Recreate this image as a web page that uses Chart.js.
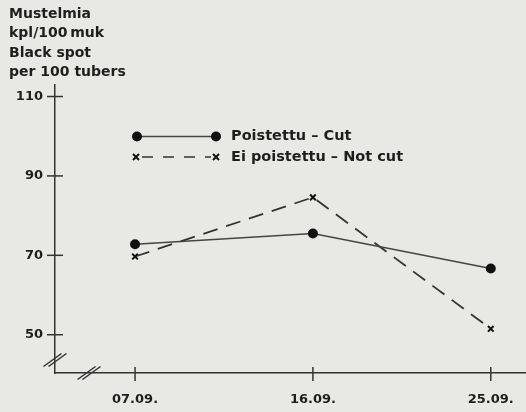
<!DOCTYPE html>
<html>
<head>
<meta charset="utf-8">
<script src="https://cdn.jsdelivr.net/npm/chart.js@4.4.1/dist/chart.umd.min.js"></script>
<style>
  html, body { margin: 0; padding: 0; background: #e8e8e5; }
  #wrap { width: 526px; height: 412px; }
</style>
</head>
<body>
<div id="wrap"><canvas id="chart" width="526" height="412"></canvas></div>
<script>
// Sampling dates (placed at x = 0, 1, 2)
const dates = ['07.09.', '16.09.', '25.09.'];
// Black spot per 100 tubers
const cutValues = [72.8, 75.5, 66.7];
const notCutValues = [69.7, 84.6, 51.5];
const yTicks = [50, 70, 90, 110];
const titleLines = ['Mustelmia', 'kpl/100\u2009muk', 'Black spot', 'per 100 tubers'];
const legendLabels = ['Poistettu – Cut', 'Ei poistettu – Not cut'];

const INK = '#1e1e1e';
const FONT = 'DejaVu Sans';

// Extra drawing: background, tick crosses, axis breaks, title block, legend
const decor = {
  id: 'decor',
  beforeDraw(chart) {
    const ctx = chart.ctx;
    ctx.save();
    ctx.fillStyle = '#e8e8e5';
    ctx.fillRect(0, 0, chart.width, chart.height);
    ctx.restore();
  },
  afterDraw(chart) {
    const ctx = chart.ctx;
    const area = chart.chartArea;
    const xs = chart.scales.x;
    const ys = chart.scales.y;
    ctx.save();
    ctx.strokeStyle = '#333';
    ctx.lineWidth = 1.5;

    // tick marks crossing the axes
    yTicks.forEach(v => {
      const py = ys.getPixelForValue(v);
      ctx.beginPath();
      ctx.moveTo(area.left - 8, py);
      ctx.lineTo(area.left + 8, py);
      ctx.stroke();
    });
    dates.forEach((d, i) => {
      const px = xs.getPixelForValue(i);
      ctx.beginPath();
      ctx.moveTo(px, area.bottom - 6);
      ctx.lineTo(px, area.bottom + 8);
      ctx.stroke();
    });

    // axis break marks
    const brk = (cx, cy) => {
      [-2.5, 2.5].forEach(o => {
        ctx.beginPath();
        ctx.moveTo(cx + o - 9, cy + 6.5);
        ctx.lineTo(cx + o + 9, cy - 6.5);
        ctx.stroke();
      });
    };
    brk(area.left, area.bottom - 13);
    brk(area.left + 34, area.bottom);

    // y axis title, top left
    ctx.fillStyle = INK;
    ctx.font = 'bold 14px "' + FONT + '"';
    ctx.textAlign = 'left';
    ctx.textBaseline = 'middle';
    titleLines.forEach((t, i) => ctx.fillText(t, 9, 14 + i * 19.5));

    // legend
    const lx0 = 137, lx1 = 216, tx = 231;
    const r1 = 136.5, r2 = 157;
    ctx.strokeStyle = '#444';
    ctx.lineWidth = 1.5;
    ctx.beginPath();
    ctx.moveTo(lx0, r1);
    ctx.lineTo(lx1, r1);
    ctx.stroke();
    ctx.fillStyle = '#111';
    [lx0, lx1].forEach(x => {
      ctx.beginPath();
      ctx.arc(x, r1, 5, 0, Math.PI * 2);
      ctx.fill();
    });
    ctx.strokeStyle = '#333';
    ctx.setLineDash([11, 10]);
    ctx.beginPath();
    ctx.moveTo(lx0 + 5, r2);
    ctx.lineTo(lx1 - 5, r2);
    ctx.stroke();
    ctx.setLineDash([]);
    ctx.strokeStyle = '#111';
    ctx.lineWidth = 2;
    [lx0 - 1, lx1].forEach(x => {
      ctx.beginPath();
      ctx.moveTo(x - 3, r2 - 3); ctx.lineTo(x + 3, r2 + 3);
      ctx.moveTo(x + 3, r2 - 3); ctx.lineTo(x - 3, r2 + 3);
      ctx.stroke();
    });
    ctx.fillStyle = INK;
    ctx.font = 'bold 14.5px "' + FONT + '"';
    ctx.fillText(legendLabels[0], tx, r1);
    ctx.fillText(legendLabels[1], tx, r2);
    ctx.restore();
  }
};

new Chart(document.getElementById('chart').getContext('2d'), {
  type: 'line',
  data: {
    datasets: [{
      label: legendLabels[0],
      data: cutValues.map((v, i) => ({ x: i, y: v })),
      borderColor: '#444',
      borderWidth: 1.5,
      pointRadius: 5,
      pointBackgroundColor: '#111',
      pointBorderWidth: 0,
      tension: 0
    }, {
      label: legendLabels[1],
      data: notCutValues.map((v, i) => ({ x: i, y: v })),
      borderColor: '#333',
      borderWidth: 1.8,
      borderDash: [15, 9],
      pointStyle: 'crossRot',
      pointRadius: 4,
      pointBorderWidth: 2,
      pointBorderColor: '#111',
      tension: 0
    }]
  },
  options: {
    responsive: false,
    animation: false,
    devicePixelRatio: 1,
    layout: { autoPadding: false, padding: { top: 85, left: 0, right: 0, bottom: 0 } },
    plugins: {
      legend: { display: false },
      title: { display: false },
      tooltip: { enabled: false }
    },
    scales: {
      x: {
        type: 'linear',
        min: -0.45,
        max: 2.198,
        afterBuildTicks: s => { s.ticks = dates.map((d, i) => ({ value: i })); },
        afterFit: s => { s.height = 39; s.paddingLeft = 0; s.paddingRight = 0; },
        grid: { display: false, drawTicks: false },
        border: { display: true, color: '#333', width: 1.5 },
        ticks: {
          callback: v => dates[v],
          font: { family: FONT, size: 13, weight: 'bold' },
          color: INK,
          padding: 19,
          maxRotation: 0
        }
      },
      y: {
        min: 40.36,
        max: 112.9,
        afterBuildTicks: s => { s.ticks = yTicks.map(v => ({ value: v })); },
        afterFit: s => { s.width = 55; },
        grid: { display: false, drawTicks: false },
        border: { display: true, color: '#333', width: 1.5 },
        ticks: {
          font: { family: FONT, size: 13, weight: 'bold' },
          color: INK,
          padding: 12
        }
      }
    }
  },
  plugins: [decor]
});
</script>
</body>
</html>
